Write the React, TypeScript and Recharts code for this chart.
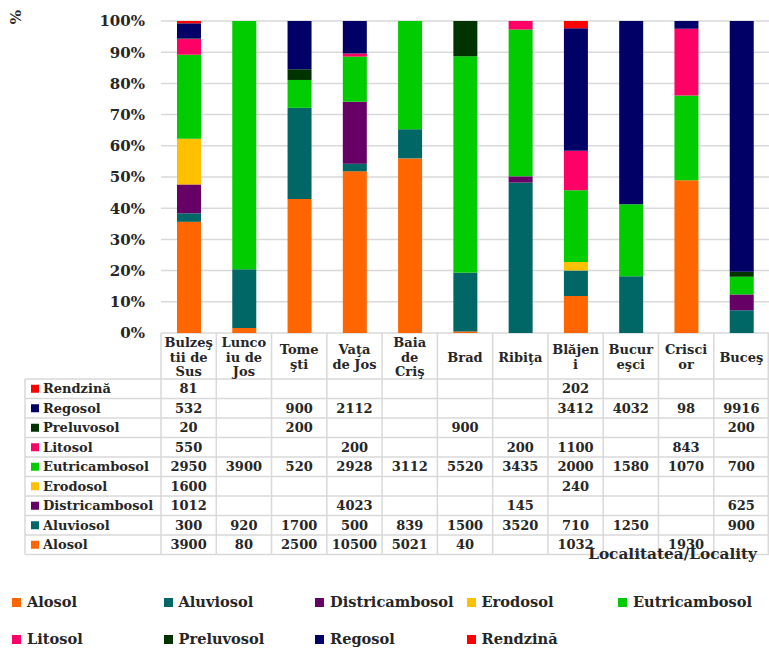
import React from 'react';
import { BarChart, Bar, XAxis, YAxis, CartesianGrid, Legend } from 'recharts';

const categories = ['Bulzeştii de Sus', 'Luncoiu de Jos', 'Tomeşti', 'Vaţa de Jos', 'Baia de Criş', 'Brad', 'Ribiţa', 'Blăjeni', 'Bucureşci', 'Crişcior', 'Buceş'];
const headerLines = [
  ['Bulzeş', 'tii de', 'Sus'],
  ['Lunco', 'iu de', 'Jos'],
  ['Tome', 'şti'],
  ['Vaţa', 'de Jos'],
  ['Baia', 'de', 'Criş'],
  ['Brad'],
  ['Ribiţa'],
  ['Blăjen', 'i'],
  ['Bucur', 'eşci'],
  ['Crisci', 'or'],
  ['Buceş'],
];

const alosol = [3900, 80, 2500, 10500, 5021, 40, null, 1032, null, 1930, null];
const aluviosol = [300, 920, 1700, 500, 839, 1500, 3520, 710, 1250, null, 900];
const districambosol = [1012, null, null, 4023, null, null, 145, null, null, null, 625];
const erodosol = [1600, null, null, null, null, null, null, 240, null, null, null];
const eutricambosol = [2950, 3900, 520, 2928, 3112, 5520, 3435, 2000, 1580, 1070, 700];
const litosol = [550, null, null, 200, null, null, 200, 1100, null, 843, null];
const preluvosol = [20, null, 200, null, null, 900, null, null, null, null, 200];
const regosol = [532, null, 900, 2112, null, null, null, 3412, 4032, 98, 9916];
const rendzina = [81, null, null, null, null, null, null, 202, null, null, null];

const seriesNames = ['Alosol', 'Aluviosol', 'Districambosol', 'Erodosol', 'Eutricambosol', 'Litosol', 'Preluvosol', 'Regosol', 'Rendzină'];
const seriesColors = ['#FF6600', '#006666', '#660066', '#FFC000', '#00CC00', '#FF0066', '#003300', '#000066', '#FF0000'];
const seriesValues: (number | null)[][] = [alosol, aluviosol, districambosol, erodosol, eutricambosol, litosol, preluvosol, regosol, rendzina];

const yTicks = [0, 0.1, 0.2, 0.3, 0.4, 0.5, 0.6, 0.7, 0.8, 0.9, 1];
const xAxisTitle = 'Localitatea/Locality';
const yAxisTitle = '%';

const data = categories.map((name, i) => {
  const row: Record<string, string | number> = { name };
  seriesNames.forEach((s, k) => {
    row[s] = seriesValues[k][i] ?? 0;
  });
  return row;
});

const W = 769;
const H = 648;
const PLOT_LEFT = 161;
const MARGIN = { top: 21, right: 0, bottom: 93, left: 0 };
const X_AXIS_H = 222;
const COL_W = (W - PLOT_LEFT - MARGIN.right) / categories.length;
const HEADER_H = 46;
const ROW_H = 19.5;
const LABEL_COL_W = 136;
const FONT = '"DejaVu Serif", serif';
const TEXT = '#262626';
const BORDER = '#d9d9d9';

const TableTick = (props: any) => {
  const { x, y, index } = props;
  const left = x - COL_W / 2;
  const right = x + COL_W / 2;
  const top = y;
  const rowsTop = top + HEADER_H;
  const bottom = rowsTop + ROW_H * seriesNames.length;
  const lines = headerLines[index] || [];
  const lh = 14.5;
  const firstBase = top + HEADER_H / 2 - ((lines.length - 1) * lh) / 2 + 5.5;
  const rowOrder = seriesNames.map((_, k) => seriesNames.length - 1 - k);
  return (
    <g fontFamily={FONT} fontWeight="bold" fill={TEXT}>
      <line x1={left} x2={left} y1={top} y2={bottom} stroke={BORDER} strokeWidth={1.5} />
      {index === categories.length - 1 && (
        <line x1={right - 0.75} x2={right - 0.75} y1={top} y2={bottom} stroke={BORDER} strokeWidth={1.5} />
      )}
      {[0, ...rowOrder.map((_, r) => r + 1)].map((r) => (
        <line key={`h${r}`} x1={left} x2={right} y1={rowsTop + r * ROW_H} y2={rowsTop + r * ROW_H} stroke={BORDER} strokeWidth={1.5} />
      ))}
      {lines.map((t, li) => (
        <text key={`l${li}`} x={x} y={firstBase + li * lh} textAnchor="middle" fontSize={13}>
          {t}
        </text>
      ))}
      {rowOrder.map((k, r) => {
        const v = seriesValues[k][index];
        if (v == null) return null;
        return (
          <text key={`v${k}`} x={x} y={rowsTop + r * ROW_H + ROW_H / 2 + 4.7} textAnchor="middle" fontSize={13}>
            {v}
          </text>
        );
      })}
      {index === 0 && (
        <g>
          <line x1={left - LABEL_COL_W} x2={left - LABEL_COL_W} y1={rowsTop} y2={bottom} stroke={BORDER} strokeWidth={1.5} />
          {rowOrder.map((k, r) => (
            <g key={`lab${k}`}>
              <line x1={left - LABEL_COL_W} x2={left} y1={rowsTop + r * ROW_H} y2={rowsTop + r * ROW_H} stroke={BORDER} strokeWidth={1.5} />
              <rect x={left - LABEL_COL_W + 6} y={rowsTop + r * ROW_H + ROW_H / 2 - 4} width={8} height={8} fill={seriesColors[k]} />
              <text x={left - LABEL_COL_W + 18} y={rowsTop + r * ROW_H + ROW_H / 2 + 4.7} fontSize={13}>
                {seriesNames[k]}
              </text>
            </g>
          ))}
          <line x1={left - LABEL_COL_W} x2={left} y1={bottom} y2={bottom} stroke={BORDER} strokeWidth={1.5} />
        </g>
      )}
      {index === categories.length - 1 && (
        <text x={right - 12} y={bottom + 4} textAnchor="end" fontSize={15.3}>
          {xAxisTitle}
        </text>
      )}
    </g>
  );
};

const YTitle = () => (
  <text x={16} y={17} transform="rotate(-90, 16, 17)" textAnchor="middle" dominantBaseline="central" fontFamily={FONT} fontWeight="bold" fontSize={15} fill={TEXT}>
    {yAxisTitle}
  </text>
);

const LegendContent = () => (
  <div style={{ position: 'relative', width: W, height: 58, fontFamily: FONT, fontWeight: 'bold', fontSize: 14.6, color: TEXT }}>
    {seriesNames.map((n, i) => {
      const col = i % 5;
      const row = Math.floor(i / 5);
      return (
        <div key={n} style={{ position: 'absolute', left: 12 + col * 151.5, top: row * 37, display: 'flex', alignItems: 'center', whiteSpace: 'nowrap', lineHeight: '18px' }}>
          <span style={{ display: 'inline-block', width: 9, height: 9, background: seriesColors[i], marginRight: 6 }} />
          <span>{n}</span>
        </div>
      );
    })}
  </div>
);

export default function App() {
  return (
    <div style={{ position: 'absolute', left: 0, top: 0, width: W, height: H, background: '#fff' }}>
      <BarChart width={W} height={H} data={data} stackOffset="expand" margin={MARGIN} barSize={24}>
        <CartesianGrid vertical={false} stroke={BORDER} strokeWidth={1.5} />
        <XAxis dataKey="name" axisLine={false} tickLine={false} tickSize={0} tickMargin={0} interval={0} height={X_AXIS_H} tick={<TableTick />} />
        <YAxis
          width={PLOT_LEFT}
          domain={[0, 1]}
          ticks={yTicks}
          axisLine={false}
          tickLine={false}
          tickSize={0}
          tickMargin={16}
          tickFormatter={(v: number) => `${Math.round(v * 100)}%`}
          tick={{ fontFamily: FONT, fontWeight: 'bold', fontSize: 15, fill: TEXT }}
          label={<YTitle />}
        />
        <Legend
          layout="horizontal"
          verticalAlign="middle"
          align="center"
          wrapperStyle={{ top: 593, left: 0, width: W }}
          content={<LegendContent />}
        />
        {seriesNames.map((s, k) => (
          <Bar key={s} dataKey={s} stackId="a" fill={seriesColors[k]} isAnimationActive={false} />
        ))}
      </BarChart>
    </div>
  );
}
